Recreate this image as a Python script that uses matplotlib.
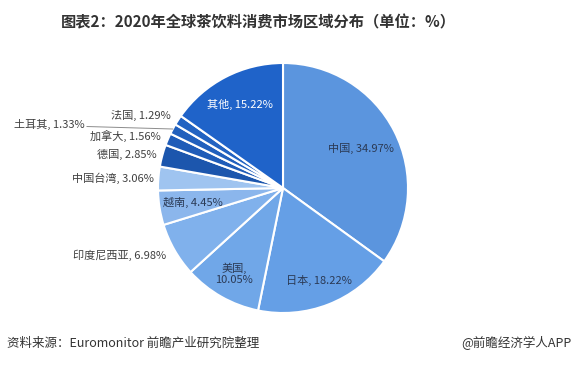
import numpy as np
import matplotlib.pyplot as plt

plt.rcParams['font.family'] = ['Noto Sans CJK SC', 'DejaVu Sans']

# data (clockwise from 12 o'clock)
regions = ['中国', '日本', '美国', '印度尼西亚', '越南', '中国台湾',
           '德国', '加拿大', '土耳其', '法国', '其他']
shares = [34.97, 18.22, 10.05, 6.98, 4.45, 3.06, 2.85, 1.56, 1.33, 1.29, 15.22]

colors = ['#5b95de', '#659fe6', '#70a7e8', '#80b1ec', '#8bb6ec', '#9fc4f0',
          '#1c56ad', '#1f5cb8', '#2160bd', '#2263c2', '#1f63c9']

# label placement: distance (in radii) and whether the label sits inside
label_dist = [0.70, 0.79, 0.79, 1.08, 0.73, 1.04, 1.05, 1.06, 1.0, 1.07, 0.75]
inside = [True, True, True, False, True, False, False, False, False, False, True]

if __name__ == '__main__':
    fig = plt.figure(figsize=(5.77, 3.65), dpi=100)
    W, H = 577, 365
    cx, cy, r = 283, 188, 125
    ax = fig.add_axes([(cx - r) / W, (H - cy - r) / H, 2 * r / W, 2 * r / H])

    wedges, _ = ax.pie(shares, colors=colors, startangle=90, counterclock=False,
                       wedgeprops=dict(edgecolor='white', linewidth=1.5))
    ax.set_xlim(-1, 1)
    ax.set_ylim(-1, 1)
    ax.set_aspect('equal')
    ax.axis('off')

    fs = 8
    for i, w in enumerate(wedges):
        ang = np.deg2rad((w.theta1 + w.theta2) / 2)
        d = label_dist[i]
        x, y = d * np.cos(ang), d * np.sin(ang)
        name = regions[i]
        val = f'{shares[i]:.2f}%'
        if name == '美国':
            txt = f'{name},\n{val}'
        else:
            txt = f'{name}, {val}'
        if inside[i]:
            col = 'white' if name == '其他' else '#2b3a55'
            ax.text(x, y, txt, ha='center', va='center', fontsize=fs,
                    color=col, linespacing=1.2)
        elif name == '土耳其':
            ex, ey = np.cos(ang), np.sin(ang)
            lx = (87 - cx) / r
            ax.plot([ex, lx], [ey, ey + 0.02], color='#8c8c8c', lw=0.7,
                    clip_on=False)
            ax.text(lx - 0.02, ey + 0.04, txt, ha='right', va='center',
                    fontsize=fs, color='#404040')
        else:
            ax.text(x, y, txt, ha='right', va='center', fontsize=fs,
                    color='#404040')

    fig.text(258 / W, 1 - 22 / H, '图表2：2020年全球茶饮料消费市场区域分布（单位：%）',
             ha='center', va='center', fontsize=11, fontweight='bold',
             color='#333333')
    fig.text(7 / W, 1 - 343 / H, '资料来源：Euromonitor 前瞻产业研究院整理',
             ha='left', va='center', fontsize=9, color='#333333')
    fig.text(572 / W, 1 - 343 / H, '@前瞻经济学人APP',
             ha='right', va='center', fontsize=9, color='#333333')

    fig.savefig('out.png', dpi=100)
